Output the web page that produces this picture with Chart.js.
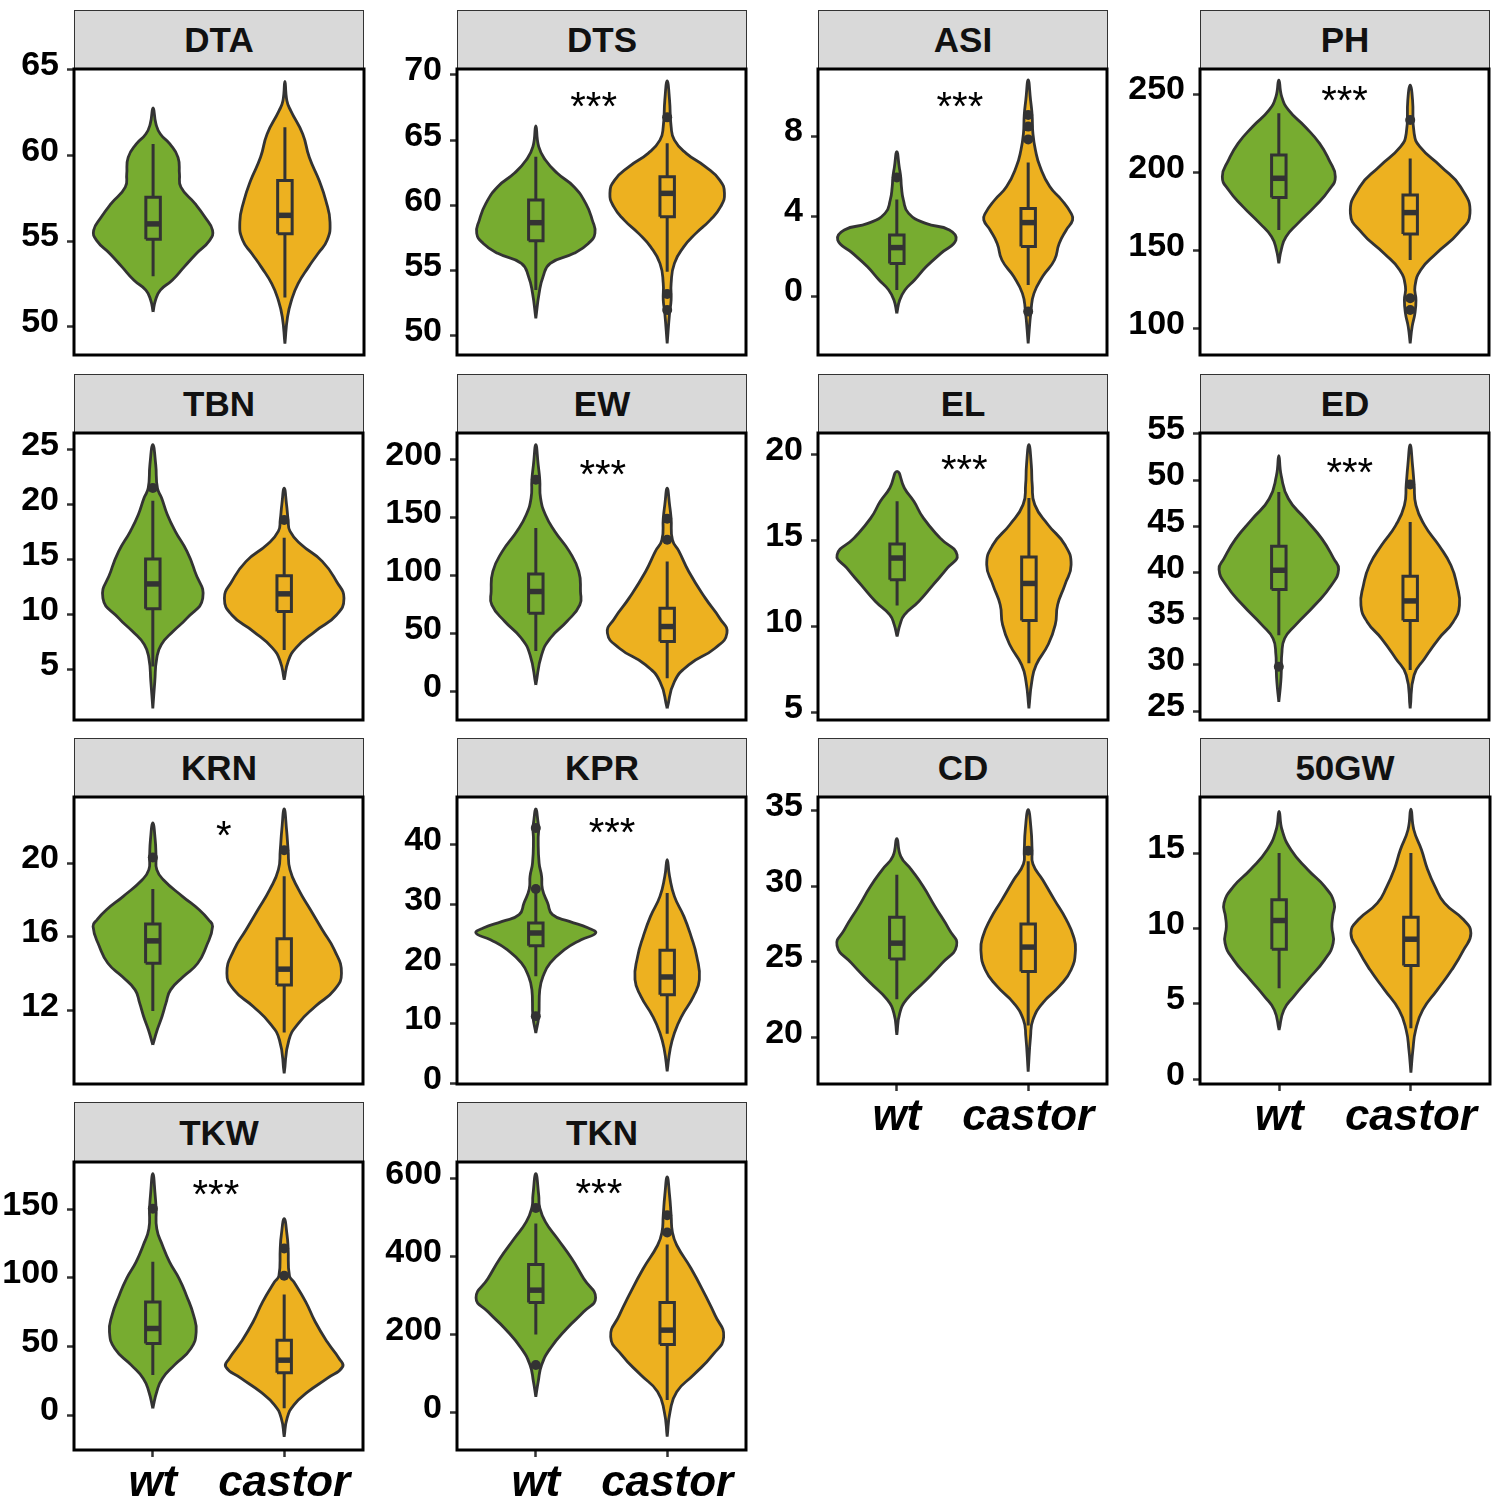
<!DOCTYPE html>
<html><head><meta charset="utf-8">
<script src="https://cdn.jsdelivr.net/npm/chart.js@4.4.0/dist/chart.umd.min.js"></script>
<style>
html,body{margin:0;padding:0;background:#fff;}
#wrap{position:relative;width:1500px;height:1498px;overflow:hidden;background:#fff;}
.strip{position:absolute;box-sizing:border-box;background:#d9d9d9;border:1.5px solid #333;border-bottom:none;
  font:bold 35px "Liberation Sans",Arial,sans-serif;color:#111;display:flex;align-items:center;justify-content:center;}
.panel{position:absolute;}
</style></head><body><div id="wrap"></div>
<script>
// ---------------- data ----------------
const traits = ['DTA','DTS','ASI','PH','TBN','EW','EL','ED','KRN','KPR','CD','50GW','TKW','TKN'];
const groups = ['wt','castor'];
const yMin = [48.34, 48.52, -2.95, 83.4, 0.45, -24.5, 4.55, 24.03, 8.05, -0.05, 16.93, -0.31, -25.5, -96.6];
const yMax = [65.05, 70.46, 11.35, 265.96, 26.5, 223.0, 21.26, 55.1, 23.57, 47.98, 35.9, 18.72, 184.5, 642.7];
const yTicks = [
  [50,55,60,65],[50,55,60,65,70],[0,4,8],[100,150,200,250],
  [5,10,15,20,25],[0,50,100,150,200],[5,10,15,20],[25,30,35,40,45,50,55],
  [12,16,20],[0,10,20,30,40],[20,25,30,35],[0,5,10,15],
  [0,50,100,150],[0,200,400,600]
];
const stars = ['','***','***','***','','***','***','***','*','***','','','***','***'];
const starX = [1.5,1.44,1.48,1.5,1.5,1.51,1.51,1.54,1.54,1.58,1.5,1.5,1.48,1.48];
const starY = [0,68.29,9.97,252.1,0,195.7,19.67,51.87,21.99,43.6,0,0,167.5,587];

// box stats: [lower whisker, Q1, median, Q3, upper whisker]
const wtBox = [
  [52.94,55.1,56.0,57.56,60.67],[53.5,57.29,58.67,60.41,63.73],[0.3,1.63,2.42,3.05,4.83],[163.2,184.0,196.2,211.1,237.7],
  [5.3,10.55,12.8,15.06,20.36],[35.1,67.6,86.3,101.3,141.0],[11.22,12.71,13.98,14.8,17.28],[33.2,38.15,40.24,42.83,48.7],
  [12.0,14.58,15.79,16.7,18.59],[17.97,23.1,25.22,26.9,31.9],[22.54,25.2,26.24,27.96,30.76],[6.04,8.63,10.53,11.9,15.0],
  [29.1,52.2,63.1,82.5,111.7],[200,282.1,313.7,379.5,484.6]
];
const castorBox = [
  [51.7,55.43,56.5,58.53,61.64],[54.9,59.13,60.92,62.2,64.76],[0.55,2.47,3.67,4.38,6.67],[144.0,160.6,174.3,185.5,208.9],
  [6.8,10.3,11.9,13.55,17.0],[11.5,43.2,56.1,71.9,112.2],[7.86,10.34,12.5,14.04,17.47],[29.43,34.8,36.92,39.59,45.46],
  [10.83,13.41,14.26,15.9,19.28],[8.38,14.9,17.86,22.32,31.9],[20.8,24.37,25.98,27.5,31.65],[3.38,7.54,9.29,10.75,15.0],
  [4.9,30.8,40.0,54.6,87.9],[31.6,174.4,211.1,282.1,430.8]
];
const wtOut = [[],[],[5.93],[],[21.5],[182.7],[],[29.8],[20.3],[42.79,32.58,11.28],[],[],[150.5],[524.8,121.4]];
const castorOut = [[],[66.75,53.2,51.97],[9.05,8.47,7.83,-0.78],[233.4,119.6,112.1],[18.6],[149.1,130.9],[],[49.53],[20.69],[],[32.35],[],[121.4,101.5],[506,461.5]];

// violin outlines: [value, half-width in category units], bottom tip to top tip
const wtViolin = [
  [[50.86,0],[51.54,.018],[52.13,.055],[52.71,.145],[53.49,.236],[54.26,.327],[55.04,.429],[55.62,.451],[56.4,.393],[57.17,.32],[58.15,.211],[58.92,.2],[59.89,.189],[60.67,.127],[61.25,.055],[61.83,.022],[62.77,0]],
  [[51.33,0],[53.25,.025],[54.53,.055],[55.55,.11],[56.32,.29],[57.08,.4],[57.85,.45],[58.87,.43],[60.15,.38],[61.43,.29],[62.46,.164],[63.48,.073],[64.5,.022],[66.09,0]],
  [[-0.87,0],[-0.2,.022],[0.3,.062],[0.8,.135],[1.47,.225],[2.13,.335],[2.8,.45],[3.3,.4],[3.63,.22],[4.13,.09],[4.8,.05],[5.47,.035],[5.93,.03],[6.47,.018],[7.22,0]],
  [[141.9,0],[150.4,.018],[158.9,.055],[167.4,.145],[178.1,.273],[188.7,.382],[197.2,.43],[207.9,.382],[218.5,.31],[229.1,.2],[239.8,.073],[248.3,.022],[258.9,0]],
  [[1.5,0],[3.94,.015],[6.06,.03],[7.3,.065],[8.5,.155],[9.7,.26],[11.5,.38],[13.94,.32],[15.76,.26],[17.6,.17],[19.1,.11],[20.6,.067],[21.5,.035],[23.64,.022],[25.45,0]],
  [[5.8,0],[31.7,.044],[46.0,.11],[60.4,.236],[74.8,.335],[86.3,.34],[103.6,.327],[120.9,.255],[138.1,.145],[152.5,.073],[166.9,.036],[182.7,.03],[195.7,.018],[212.9,0]],
  [[9.41,0],[10.1,.022],[10.67,.055],[11.45,.164],[12.42,.273],[13.4,.382],[14.17,.455],[15.14,.327],[16.3,.2],[17.28,.127],[18.06,.055],[19.03,0]],
  [[26.0,0],[28.17,.015],[29.8,.02],[31.05,.022],[32.85,.044],[34.3,.127],[36.45,.273],[38.61,.4],[40.34,.455],[41.5,.418],[43.66,.327],[45.82,.2],[47.98,.073],[50.5,.018],[52.66,0]],
  [[10.16,0],[10.97,.033],[11.7,.07],[12.42,.1],[13.14,.135],[13.86,.233],[14.58,.342],[15.49,.407],[16.57,.455],[16.93,.425],[17.47,.353],[18.2,.225],[19.1,.08],[19.64,.03],[20.3,.025],[21.26,.018],[22.17,0]],
  [[8.49,0],[11.28,.022],[15.74,.03],[17.97,.055],[20.2,.11],[22.43,.218],[24.1,.345],[25.2,.455],[26.06,.4],[27.17,.255],[28.29,.127],[30.24,.09],[32.58,.05],[34.7,.044],[36.93,.025],[40.84,.018],[42.8,.022],[43.6,.018],[45.97,0]],
  [[20.18,0],[21.6,.022],[22.5,.073],[23.6,.2],[24.92,.345],[26.07,.455],[27.12,.4],[28.67,.29],[30.0,.2],[31.1,.11],[31.98,.03],[33.15,0]],
  [[3.27,0],[4.6,.036],[5.49,.11],[6.6,.218],[7.92,.345],[9.03,.41],[10.13,.4],[10.8,.407],[11.68,.418],[12.79,.345],[13.9,.218],[15.22,.09],[16.55,.022],[17.77,0]],
  [[4.9,0],[17.0,.03],[26.7,.073],[36.4,.164],[48.5,.29],[60.7,.33],[72.8,.31],[87.4,.255],[99.5,.2],[111.7,.127],[123.8,.073],[135.9,.03],[150.5,.025],[160.2,.018],[176,0]],
  [[40.2,0],[78.6,.018],[121.4,.044],[164.1,.11],[215.4,.236],[258.1,.364],[294.0,.455],[343.6,.364],[394.9,.273],[446.2,.164],[488.9,.073],[524.8,.03],[557.3,.022],[612.8,0]]
];
const castorViolin = [
  [[49.0,0],[50.57,.02],[51.54,.05],[52.51,.1],[53.49,.18],[54.26,.25],[55.04,.32],[56.11,.342],[57.37,.31],[58.53,.26],[59.89,.185],[61.25,.135],[62.6,.045],[63.2,.015],[64.32,0]],
  [[49.41,0],[51.71,.018],[52.74,.03],[54.02,.03],[55.55,.055],[56.83,.127],[57.85,.218],[58.87,.327],[59.9,.407],[60.92,.436],[61.94,.4],[62.97,.29],[63.99,.145],[65.0,.055],[66.04,.03],[68.08,.018],[69.54,0]],
  [[-2.37,0],[-0.7,.022],[0.13,.044],[0.97,.11],[1.8,.2],[2.63,.236],[3.3,.29],[3.8,.338],[4.13,.327],[4.8,.255],[5.47,.164],[6.47,.09],[7.3,.055],[8.13,.036],[9.05,.03],[9.8,.018],[10.8,0]],
  [[90.9,0],[101.5,.015],[110,.036],[118.5,.044],[127.0,.036],[137.7,.08],[148.3,.2],[161.1,.364],[173.8,.455],[190.9,.382],[203.6,.236],[216.4,.073],[224.9,.03],[246.2,.018],[255.7,0]],
  [[4.1,0],[5.76,.03],[7.0,.09],[8.5,.236],[10.0,.4],[11.5,.455],[13.0,.4],[14.85,.29],[16.4,.127],[17.6,.044],[18.6,.03],[20.0,.018],[21.5,0]],
  [[-14.4,0],[8.6,.055],[23.0,.164],[37.4,.364],[50.4,.455],[63.3,.4],[80.6,.29],[103.6,.164],[120.9,.09],[130.9,.04],[149.1,.03],[161.2,.018],[175.5,0]],
  [[5.23,0],[6.79,.022],[7.76,.055],[8.93,.145],[10.1,.2],[11.26,.218],[12.42,.273],[13.59,.32],[14.75,.273],[15.92,.145],[17.09,.044],[18.25,.025],[19.42,.018],[20.58,0]],
  [[25.3,0],[28.9,.03],[30.69,.11],[32.85,.218],[34.65,.327],[36.45,.375],[38.61,.356],[40.78,.31],[42.94,.218],[45.1,.11],[47.26,.044],[49.53,.03],[51.58,.018],[53.8,0]],
  [[8.63,0],[10.43,.036],[11.34,.11],[12.24,.236],[13.14,.382],[14.04,.436],[15.3,.382],[16.39,.29],[17.47,.2],[18.56,.11],[19.64,.044],[20.69,.03],[21.8,.018],[22.92,0]],
  [[2.07,0],[5.7,.022],[8.49,.055],[11.28,.11],[14.62,.2],[17.41,.245],[21.3,.225],[24.66,.182],[28.0,.127],[31.35,.055],[34.7,.018],[37.5,0]],
  [[17.75,0],[20.07,.018],[21.17,.036],[22.28,.11],[23.38,.236],[24.48,.327],[25.8,.36],[26.68,.345],[27.79,.29],[29.1,.2],[30.43,.11],[31.47,.036],[32.35,.03],[33.74,.022],[35.07,0]],
  [[0.44,0],[1.95,.015],[3.27,.036],[4.6,.09],[5.93,.2],[7.26,.31],[8.58,.4],[9.69,.455],[10.58,.4],[11.68,.255],[12.79,.182],[13.9,.127],[15.22,.08],[16.55,.022],[17.92,0]],
  [[-15.8,0],[-2.4,.022],[7.3,.073],[17.0,.182],[26.7,.327],[35.2,.445],[41.3,.418],[53.4,.327],[68.0,.236],[82.5,.164],[97.1,.073],[101.5,.04],[121.4,.03],[131.1,.022],[143.2,0]],
  [[-62.4,0],[1.7,.022],[53.0,.073],[95.7,.2],[147.0,.345],[194.0,.43],[249.6,.364],[300.9,.29],[369.2,.182],[429,.073],[461.5,.04],[506,.03],[557.3,.018],[604.3,0]]
];

// ---------------- layout / style ----------------
const FONT = '"Liberation Sans", Arial, Helvetica, sans-serif';
const fillColors = ['#77AC30', '#EDB120'];
const lineColor = '#333333';
const colLeft = [74, 457, 818, 1200];
const plotW = 290;
const stripTop = [10, 374, 738, 1102];
const rowTop = [69, 433, 797, 1162];
const plotH = [286, 287, 287, 288];
const xLabelPanels = [10, 11, 12, 13];
const BOX_HALF = 0.055;

Chart.defaults.font.family = FONT;

const borderPlugin = {
  id: 'panelBorder',
  afterDatasetsDraw(chart) {
    const {ctx, chartArea: a} = chart;
    ctx.save();
    ctx.strokeStyle = '#000';
    ctx.lineWidth = 3;
    ctx.strokeRect(a.left, a.top, a.right - a.left, a.bottom - a.top);
    ctx.restore();
  }
};
const starPlugin = {
  id: 'stars',
  afterDatasetsDraw(chart, args, opts) {
    if (!opts.text) return;
    const {ctx, scales} = chart;
    const size = 40;
    ctx.save();
    ctx.font = size + 'px ' + FONT;
    ctx.fillStyle = '#000';
    ctx.textAlign = 'center';
    ctx.textBaseline = 'alphabetic';
    ctx.fillText(opts.text, scales.x.getPixelForValue(opts.x), scales.y.getPixelForValue(opts.y) + 0.575 * size);
    ctx.restore();
  }
};

function violinPoints(profile, c) {
  const right = profile.map(([v, w]) => ({x: c + w, y: v}));
  const left = profile.slice().reverse().map(([v, w]) => ({x: c - w, y: v}));
  return right.concat(left.slice(1));
}

const wrap = document.getElementById('wrap');

traits.forEach((name, i) => {
  const col = i % 4, row = Math.floor(i / 4);
  const L = colLeft[col], T = rowTop[row], W = plotW, H = plotH[row];
  const hasX = xLabelPanels.includes(i);

  const s = document.createElement('div');
  s.className = 'strip';
  s.textContent = name;
  s.style.left = L + 'px';
  s.style.top = stripTop[row] + 'px';
  s.style.width = W + 'px';
  s.style.height = (T - stripTop[row]) + 'px';
  wrap.appendChild(s);

  const padT = 22, padR = 4, axisW = 76, xH = hasX ? 64 : 0, padB = hasX ? 0 : 16;
  const cw = axisW + W + padR, ch = padT + H + padB + xH;
  const d = document.createElement('div');
  d.className = 'panel';
  d.style.left = (L - axisW) + 'px';
  d.style.top = (T - padT) + 'px';
  const cv = document.createElement('canvas');
  cv.width = cw; cv.height = ch;
  cv.style.width = cw + 'px'; cv.style.height = ch + 'px';
  d.appendChild(cv);
  wrap.appendChild(d);

  const datasets = [];
  const violins = [wtViolin[i], castorViolin[i]];
  const boxes = [wtBox[i], castorBox[i]];
  const outs = [wtOut[i], castorOut[i]];
  for (let g = 0; g < 2; g++) {
    const c = g + 1;
    const [lo, q1, med, q3, hi] = boxes[g];
    datasets.push({
      data: violinPoints(violins[g], c), showLine: true, fill: 'shape',
      backgroundColor: fillColors[g], borderColor: lineColor, borderWidth: 2.8,
      pointRadius: 0, tension: 0.5, order: 4
    });
    datasets.push({
      data: [{x: c, y: lo}, {x: c, y: q1}, {x: c, y: null}, {x: c, y: q3}, {x: c, y: hi}],
      showLine: true, spanGaps: false, fill: false, borderColor: lineColor, borderWidth: 3,
      pointRadius: 0, tension: 0, order: 3
    });
    datasets.push({
      data: [{x: c - BOX_HALF, y: q1}, {x: c + BOX_HALF, y: q1}, {x: c + BOX_HALF, y: q3}, {x: c - BOX_HALF, y: q3}, {x: c - BOX_HALF, y: q1}],
      showLine: true, fill: false, borderColor: lineColor, borderWidth: 3, borderJoinStyle: 'miter',
      pointRadius: 0, tension: 0, order: 2
    });
    datasets.push({
      data: [{x: c - BOX_HALF, y: med}, {x: c + BOX_HALF, y: med}],
      showLine: true, fill: false, borderColor: lineColor, borderWidth: 5.5, borderCapStyle: 'butt',
      pointRadius: 0, tension: 0, order: 1
    });
    datasets.push({
      data: outs[g].map(v => ({x: c, y: v})), showLine: false,
      pointRadius: 5, pointBackgroundColor: lineColor, pointBorderColor: lineColor, pointBorderWidth: 0, order: 0
    });
  }

  new Chart(cv, {
    type: 'line',
    data: {datasets},
    options: {
      responsive: false, animation: false, devicePixelRatio: 1,
      layout: {padding: {top: padT, right: padR, bottom: padB, left: 0}},
      plugins: {
        legend: {display: false}, tooltip: {enabled: false},
        stars: {text: stars[i], x: starX[i], y: starY[i]}
      },
      scales: {
        x: {
          type: 'linear', min: 0.4, max: 2.6, display: hasX,
          afterBuildTicks: sc => { sc.ticks = [{value: 1}, {value: 2}]; },
          afterFit: sc => { sc.height = xH; sc.paddingLeft = 0; sc.paddingRight = 0; sc.paddingTop = 0; sc.paddingBottom = 0; },
          ticks: {
            callback: v => groups[Math.round(v) - 1],
            font: {size: 44, weight: 'bold', style: 'italic', family: FONT},
            color: '#000', padding: 0, maxRotation: 0, autoSkip: false
          },
          grid: {drawOnChartArea: false, drawTicks: true, tickLength: 7, tickWidth: 2.5, tickColor: lineColor, color: lineColor},
          border: {display: false}
        },
        y: {
          type: 'linear', min: yMin[i], max: yMax[i],
          afterBuildTicks: sc => { sc.ticks = yTicks[i].map(v => ({value: v})); },
          afterFit: sc => { sc.width = axisW; sc.paddingTop = 0; sc.paddingBottom = 0; sc.paddingLeft = 0; sc.paddingRight = 0; },
          ticks: {
            callback: v => String(v),
            font: {size: 34, weight: 'bold', family: FONT},
            color: '#000', padding: 8, labelOffset: -4, autoSkip: false
          },
          grid: {drawOnChartArea: false, drawTicks: true, tickLength: 7, tickWidth: 2.5, tickColor: lineColor, color: lineColor},
          border: {display: false}
        }
      }
    },
    plugins: [borderPlugin, starPlugin]
  });
});
</script>
</body></html>
